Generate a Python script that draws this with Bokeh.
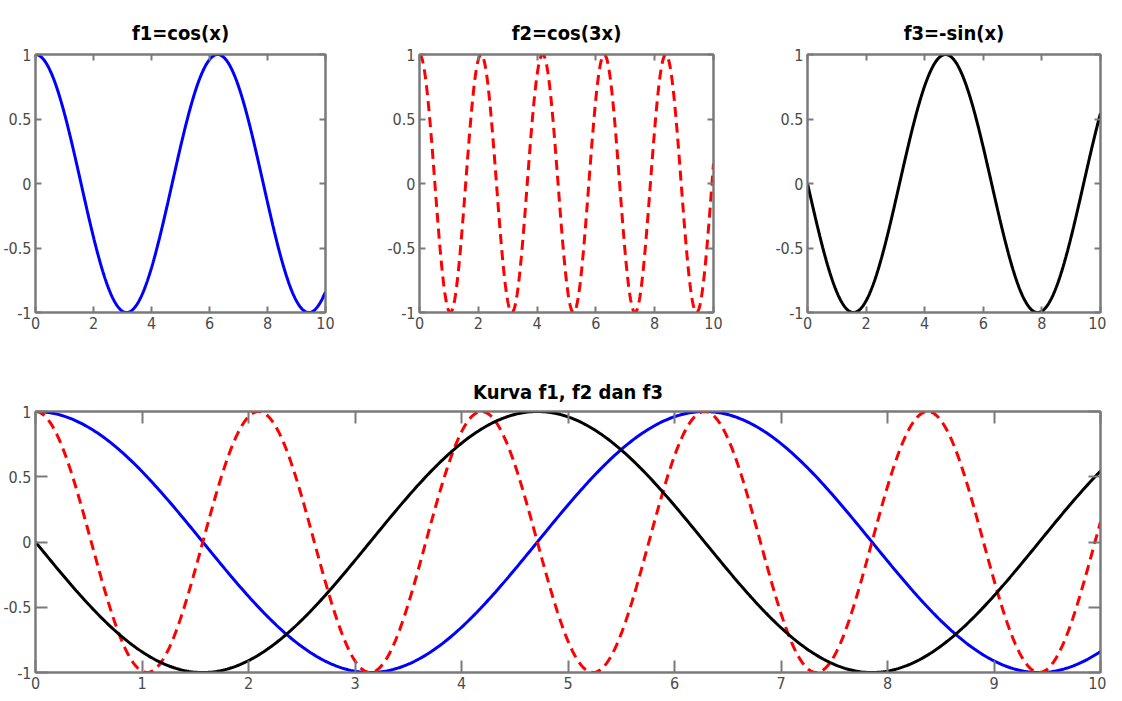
import numpy as np
from bokeh.plotting import figure
from bokeh.models import Range1d, FixedTicker, LinearAxis, CustomJSTickFormatter
from bokeh.layouts import column, row
from bokeh.embed import file_html
from bokeh.resources import INLINE

# Functions named in the chart titles, sampled on 0..10
x = np.linspace(0, 10, 501)
f1 = np.cos(x)          # f1 = cos(x)
f2 = np.cos(3 * x)      # f2 = cos(3x)
f3 = -np.sin(x)         # f3 = -sin(x)

titles = ["f1=cos(x)", "f2=cos(3x)", "f3=-sin(x)", "Kurva f1, f2 dan f3"]
xticks_top = [0, 2, 4, 6, 8, 10]
xticks_bottom = [0, 1, 2, 3, 4, 5, 6, 7, 8, 9, 10]
yticks = [-1, -0.5, 0, 0.5, 1]

FONT = "'DejaVu Sans Condensed', 'Liberation Sans Narrow', sans-serif"
GRAY = "#7a7a7a"
LABEL = "#4a4a4a"
BLUE, RED, BLACK = "#0000ff", "#ff0000", "#000000"


def style_axis(ax, ticks, ticklen, labels):
    ax.ticker = FixedTicker(ticks=ticks)
    ax.major_tick_in = ticklen
    ax.major_tick_out = 0
    ax.minor_tick_line_color = None
    ax.axis_line_color = GRAY
    ax.axis_line_width = 2
    ax.major_tick_line_color = GRAY
    ax.major_tick_line_width = 2
    if labels:
        ax.formatter = CustomJSTickFormatter(code="return String(tick)")
        ax.major_label_text_font = FONT
        ax.major_label_text_font_size = "16px"
        ax.major_label_text_color = LABEL
        ax.major_label_standoff = 4
    else:
        ax.formatter = CustomJSTickFormatter(code="return ''")
        ax.major_label_text_font_size = "1px"
        ax.major_label_standoff = 0


def make_fig(w, h, bl, br, bt, bb, title, xticks, ticklen, standoff):
    p = figure(width=w, height=h, x_range=Range1d(0, 10), y_range=Range1d(-1, 1),
               output_backend="svg", toolbar_location=None,
               min_border_left=bl, min_border_right=br,
               min_border_top=bt, min_border_bottom=bb)
    p.xgrid.visible = False
    p.ygrid.visible = False
    p.outline_line_color = GRAY
    p.outline_line_width = 2
    p.background_fill_color = "white"
    p.border_fill_color = "white"
    style_axis(p.xaxis[0], xticks, ticklen, True)
    style_axis(p.yaxis[0], yticks, ticklen, True)
    top = LinearAxis()
    style_axis(top, xticks, ticklen, False)
    p.add_layout(top, "above")
    right = LinearAxis()
    style_axis(right, yticks, ticklen, False)
    p.add_layout(right, "right")
    p.title.text = title
    p.title.align = "center"
    p.title.text_font = FONT
    p.title.text_font_size = "20px"
    p.title.text_font_style = "bold"
    p.title.text_color = "#000000"
    p.title.standoff = standoff
    return p


p1 = make_fig(372, 355, 28, 47, 54, 43, titles[0], xticks_top, 6, 19)
p1.line(x, f1, line_color=BLUE, line_width=3)

p2 = make_fig(388, 355, 47, 47, 54, 43, titles[1], xticks_top, 6, 19)
p2.line(x, f2, line_color=RED, line_width=3, line_dash="10 6")

p3 = make_fig(346, 355, 47, 6, 54, 43, titles[2], xticks_top, 6, 19)
p3.line(x, f3, line_color=BLACK, line_width=3)

p4 = make_fig(1106, 338, 28, 6, 56, 21, titles[3], xticks_bottom, 12, 15)
p4.line(x, f1, line_color=BLUE, line_width=3)
p4.line(x, f2, line_color=RED, line_width=3, line_dash="10 6")
p4.line(x, f3, line_color=BLACK, line_width=3)

layout = column(row(p1, p2, p3, spacing=0), p4, spacing=0)
open("out.html", "w").write(file_html(layout, INLINE))
